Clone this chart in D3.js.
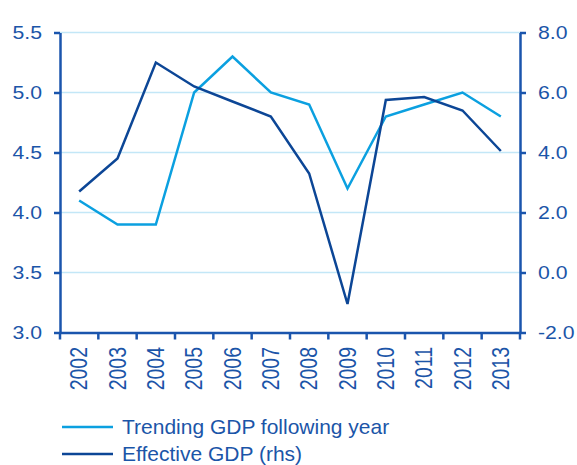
<!DOCTYPE html>
<html>
<head>
<meta charset="utf-8">
<script src="https://cdn.jsdelivr.net/npm/d3@7"></script>
<style>
  body { margin: 0; background: #fff; }
  text { font-family: "Liberation Sans", Arial, sans-serif; fill: #1b55a8; }
</style>
</head>
<body>
<script>
var years = ["2002", "2003", "2004", "2005", "2006", "2007", "2008", "2009", "2010", "2011", "2012", "2013"];
var trending = [4.1, 3.9, 3.9, 5.0, 5.3, 5.0, 4.9, 4.2, 4.8, 4.9, 5.0, 4.8];
var effective = [2.7, 3.8, 7.0, 6.2, 5.7, 5.2, 3.3, -1.05, 5.75, 5.85, 5.4, 4.05];
var leftTicks = [3.0, 3.5, 4.0, 4.5, 5.0, 5.5];
var rightTicks = [-2, 0, 2, 4, 6, 8];
var legendLabels = ["Trending GDP following year", "Effective GDP (rhs)"];

var axisColor = "#1a55ad",
  lightBlue = "#0ba0e0",
  darkBlue = "#0c4696",
  stretch = 1.18;

// plain hyphen for negatives, one decimal
var fmt = function(d) { return d.toFixed(1); };

d3.select("body").append("svg")
  .attr("width", 577)
  .attr("height", 465);

var svg = d3.select("svg"),
  margin = {
    top: 32.5,
    right: 57,
    bottom: 132.5,
    left: 60
  },
  width = +svg.attr("width") - margin.left - margin.right,
  height = +svg.attr("height") - margin.top - margin.bottom,
  g = svg.append("g").attr("transform", "translate(" + margin.left + "," + margin.top + ")");

var x = d3.scaleBand()
  .domain(years)
  .range([0, width]);

var yLeft = d3.scaleLinear()
  .domain([3.0, 5.5])
  .range([height, 0]);

var yRight = d3.scaleLinear()
  .domain([-2, 8])
  .range([height, 0]);

// grid lines
g.append("g")
  .selectAll("line")
  .data(leftTicks.slice(1))
  .enter().append("line")
  .attr("x1", 0)
  .attr("x2", width)
  .attr("y1", function(d) { return yLeft(d); })
  .attr("y2", function(d) { return yLeft(d); })
  .attr("stroke", "#c3e7f7")
  .attr("stroke-width", 1.5);

// lines
var lineLeft = d3.line()
  .x(function(d, i) { return x(years[i]) + x.bandwidth() / 2; })
  .y(function(d) { return yLeft(d); });

var lineRight = d3.line()
  .x(function(d, i) { return x(years[i]) + x.bandwidth() / 2; })
  .y(function(d) { return yRight(d); });

g.append("path")
  .datum(trending)
  .attr("fill", "none")
  .attr("stroke", lightBlue)
  .attr("stroke-width", 2.5)
  .attr("d", lineLeft);

g.append("path")
  .datum(effective)
  .attr("fill", "none")
  .attr("stroke", darkBlue)
  .attr("stroke-width", 2.5)
  .attr("d", lineRight);

// axes
var gLeft = g.append("g")
  .call(d3.axisLeft(yLeft).tickValues(leftTicks).tickFormat(fmt).tickSize(6).tickSizeOuter(0));

gLeft.selectAll("text")
  .attr("x", -18 / stretch)
  .attr("transform", "scale(" + stretch + ",1)");

var gRight = g.append("g")
  .attr("transform", "translate(" + width + ",0)")
  .call(d3.axisRight(yRight).tickValues(rightTicks).tickFormat(fmt).tickSize(6).tickSizeOuter(0));

gRight.selectAll("text")
  .attr("x", 18 / stretch)
  .attr("transform", "scale(" + stretch + ",1)");

var gBottom = g.append("g")
  .attr("transform", "translate(0," + height + ")")
  .call(d3.axisBottom(x).tickSize(0).tickSizeOuter(0));

[gLeft, gRight, gBottom].forEach(function(a) {
  a.attr("font-size", 18).attr("font-family", null);
  a.selectAll("path").attr("stroke", axisColor).attr("stroke-width", 2.5);
  a.selectAll(".tick line").attr("stroke", axisColor).attr("stroke-width", 2.5);
  a.selectAll("text").attr("fill", axisColor);
});

gBottom.selectAll(".tick text")
  .attr("x", 0)
  .attr("y", 0)
  .attr("dy", "0.35em")
  .attr("font-size", 19.5)
  .attr("text-anchor", "end")
  .attr("transform", "translate(0,14.5) rotate(-90) scale(1," + stretch + ")");

// band boundary ticks on x axis
gBottom.append("g")
  .selectAll("line")
  .data(years.concat(["end"]))
  .enter().append("line")
  .attr("x1", function(d, i) { return i * x.bandwidth(); })
  .attr("x2", function(d, i) { return i * x.bandwidth(); })
  .attr("y1", 0)
  .attr("y2", 7)
  .attr("stroke", axisColor)
  .attr("stroke-width", 2.5);

// legend
var legend = svg.append("g")
  .selectAll("g")
  .data(legendLabels)
  .enter().append("g")
  .attr("transform", function(d, i) { return "translate(62," + (427 + i * 27) + ")"; });

legend.append("line")
  .attr("x1", 0)
  .attr("x2", 51)
  .attr("stroke", function(d, i) { return i === 0 ? lightBlue : darkBlue; })
  .attr("stroke-width", 2.5);

legend.append("text")
  .attr("x", 60 / 1.05)
  .attr("dy", "0.33em")
  .attr("font-size", 20)
  .attr("transform", "scale(1.05,1)")
  .text(function(d) { return d; });
</script>
</body>
</html>
